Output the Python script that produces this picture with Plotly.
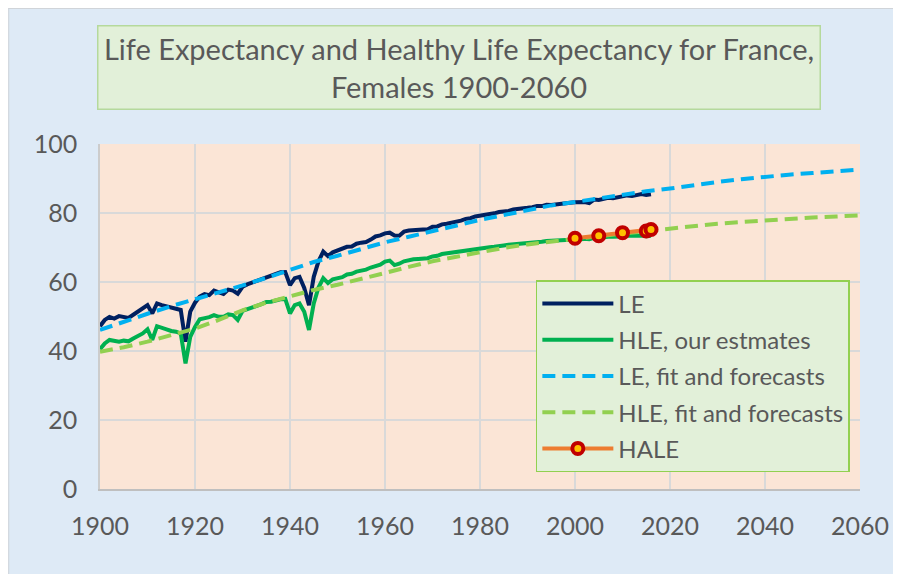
import plotly.graph_objects as go

# ---------------- data ----------------
years_obs = list(range(1900, 2017))

le_obs = [
    47.2, 49.0, 49.9, 49.4, 50.1, 49.9, 49.6, 50.5, 51.4, 52.3,
    53.3, 50.9, 53.8, 53.3, 53.0, 52.6, 52.4, 51.9, 42.7, 51.4,
    54.0, 55.8, 56.5, 56.2, 57.5, 57.0, 56.5, 57.8, 57.5, 56.6,
    58.6, 59.3, 59.8, 60.3, 60.8, 61.0, 61.5, 62.0, 62.8, 62.9,
    59.1, 61.1, 61.5, 58.3, 53.3, 61.5, 66.0, 68.8, 67.5, 68.6,
    69.2, 69.5, 70.2, 70.3, 71.1, 71.4, 71.6, 72.3, 73.2, 73.5,
    74.1, 74.3, 73.5, 73.4, 74.6, 74.9, 75.1, 75.1, 75.2, 75.3,
    76.0, 76.1, 76.7, 76.9, 77.2, 77.4, 77.8, 78.3, 78.5, 79.0,
    79.2, 79.4, 79.8, 79.9, 80.3, 80.4, 80.6, 81.0, 81.1, 81.2,
    81.5, 81.7, 82.0, 82.0, 82.4, 82.3, 82.5, 82.8, 82.9, 83.0,
    83.1, 83.2, 83.2, 82.9, 83.9, 83.8, 84.2, 84.4, 84.3, 84.5,
    84.7, 85.1, 84.9, 85.1, 85.5, 85.2, 85.4,
]

hle_obs = [
    40.5, 42.2, 43.2, 43.0, 42.7, 43.0, 42.8, 43.6, 44.3, 45.1,
    46.3, 43.2, 47.2, 46.6, 46.3, 45.8, 45.6, 45.1, 36.4, 44.1,
    47.0, 49.2, 49.5, 49.8, 50.4, 49.9, 49.9, 50.6, 50.4, 49.0,
    51.6, 52.2, 52.6, 53.1, 53.6, 54.2, 54.3, 54.8, 55.0, 55.1,
    50.9, 53.3, 53.8, 51.4, 46.1, 53.8, 58.4, 61.1, 59.7, 60.8,
    61.0, 61.4, 62.2, 62.4, 63.0, 63.3, 63.6, 64.2, 64.6, 65.0,
    65.9, 66.2, 64.9, 65.3, 66.0, 66.4, 66.6, 66.7, 66.8, 66.9,
    67.4, 67.6, 68.1, 68.3, 68.6, 68.8, 69.0, 69.3, 69.4, 69.6,
    69.8, 70.0, 70.1, 70.2, 70.5, 70.6, 70.8, 70.9, 71.0, 71.2,
    71.3, 71.4, 71.6, 71.7, 71.9, 72.0, 72.1, 72.2, 72.3, 72.3,
    72.4, 72.5, 72.5, 72.4, 72.8, 72.8, 73.0, 73.1, 73.1, 73.1,
    73.2, 73.4, 73.3, 73.4, 73.5, 73.3, 73.4,
]

years_fit = list(range(1900, 2061, 5))
le_fit = [
    46.1, 48.6, 50.8, 53.0, 55.0, 56.8, 59.0, 61.2, 63.6, 65.8,
    67.6, 69.5, 71.5, 73.1, 74.7, 76.6, 78.0, 79.4, 80.8, 82.2,
    83.2, 84.3, 85.4, 86.3, 87.1, 88.1, 89.0, 89.8, 90.5, 91.1,
    91.6, 92.1, 92.6,
]
hle_fit = [
    39.8, 41.1, 42.7, 44.5, 46.5, 49.0, 51.8, 54.0, 56.0, 57.7,
    59.2, 60.8, 62.6, 64.4, 66.0, 67.3, 68.6, 69.9, 70.9, 71.8,
    72.5, 73.3, 74.0, 74.9, 75.5, 76.2, 76.9, 77.4, 77.9, 78.3,
    78.7, 79.0, 79.3,
]

years_hale = [2000, 2005, 2010, 2015, 2016]
hale = [72.7, 73.4, 74.3, 74.8, 75.2]

x_ticks = [1900, 1920, 1940, 1960, 1980, 2000, 2020, 2040, 2060]
y_ticks = [0, 20, 40, 60, 80, 100]

title_text = "Life Expectancy and Healthy Life Expectancy for France,<br>Females 1900-2060"

# ---------------- styling ----------------
FONT = "Lato"
TXT = "#595959"
OFF = 8                      # page offset of the figure (body margin)
W, H = 893, 566
L, T = 100 - OFF, 144 - OFF  # plot area left / top inside the figure
R = W - (862 - OFF)
B = H - (489 - OFF)
PW, PH = W - L - R, H - T - B


def px_x(px):
    """page pixel x -> paper coordinate"""
    return (px - OFF - L) / PW


def px_y(py):
    """page pixel y -> paper coordinate"""
    return (H - B - (py - OFF)) / PH


fig = go.Figure()

fig.add_trace(go.Scatter(x=years_obs, y=le_obs, mode="lines", name="LE",
                         legendgroup="a",
                         line=dict(color="#002060", width=4)))
fig.add_trace(go.Scatter(x=years_obs, y=hle_obs, mode="lines", name="HLE, our estmates",
                         legendgroup="b",
                         line=dict(color="#00B050", width=4)))
fig.add_trace(go.Scatter(x=years_fit, y=le_fit, mode="lines", name="LE, fit and forecasts",
                         legendgroup="c",
                         line=dict(color="#00B0F0", width=4, dash="13px,7px")))
fig.add_trace(go.Scatter(x=years_fit, y=hle_fit, mode="lines", name="HLE, fit and forecasts",
                         legendgroup="d",
                         line=dict(color="#92D050", width=4, dash="13px,7px")))
fig.add_trace(go.Scatter(x=years_hale, y=hale, mode="lines+markers", name="HALE",
                         legendgroup="e",
                         line=dict(color="#ED7D31", width=4),
                         marker=dict(size=11, color="#FFC000",
                                     line=dict(color="#C00000", width=4))))

fig.update_layout(
    width=W, height=H,
    margin=dict(l=L, r=R, t=T, b=B, pad=0),
    paper_bgcolor="#DEEAF6",
    plot_bgcolor="#FBE5D6",
    font=dict(family=FONT, color=TXT, size=24),
    showlegend=True,
    legend=dict(
        x=px_x(537), y=px_y(280), xanchor="left", yanchor="top",
        bgcolor="#E2F0D9", bordercolor="#92D050", borderwidth=1.5,
        font=dict(family=FONT, size=24, color=TXT),
        itemwidth=71, tracegroupgap=2, traceorder="grouped",
    ),
    xaxis=dict(
        range=[1900, 2060], tickmode="array", tickvals=x_ticks,
        ticktext=[str(v) for v in x_ticks],
        showgrid=True, gridcolor="#D9D9D9", gridwidth=1.5,
        showline=True, linecolor="#BFBFBF", linewidth=1.5,
        zeroline=False, ticks="", ticklabelstandoff=14,
        tickfont=dict(family=FONT, size=25, color=TXT),
        fixedrange=True,
    ),
    yaxis=dict(
        range=[0, 100], tickmode="array", tickvals=y_ticks,
        ticktext=[str(v) for v in y_ticks],
        showgrid=True, gridcolor="#D9D9D9", gridwidth=1.5,
        showline=True, linecolor="#CCCCCC", linewidth=1.5,
        zeroline=False, ticks="", ticklabelstandoff=16,
        tickfont=dict(family=FONT, size=25, color=TXT),
        fixedrange=True,
    ),
    annotations=[dict(
        text=title_text, xref="paper", yref="paper",
        x=px_x(459.5), y=px_y(67.5), xanchor="center", yanchor="middle",
        showarrow=False, align="center",
        width=721, height=82,
        bgcolor="#E2F0D9", bordercolor="#B5D99C", borderwidth=1.5, borderpad=0,
        font=dict(family=FONT, size=29, color=TXT),
    )],
    shapes=[
        # thin frame on the left and top edge of the chart area
        dict(type="line", xref="paper", yref="paper",
             x0=px_x(8.5), x1=px_x(8.5), y0=px_y(8), y1=px_y(574),
             line=dict(color="#D0D4D9", width=1)),
        dict(type="line", xref="paper", yref="paper",
             x0=px_x(8), x1=px_x(901), y0=px_y(8.5), y1=px_y(8.5),
             line=dict(color="#D0D4D9", width=1)),
    ],
)

fig.write_html("out.html", config={"displayModeBar": False})
